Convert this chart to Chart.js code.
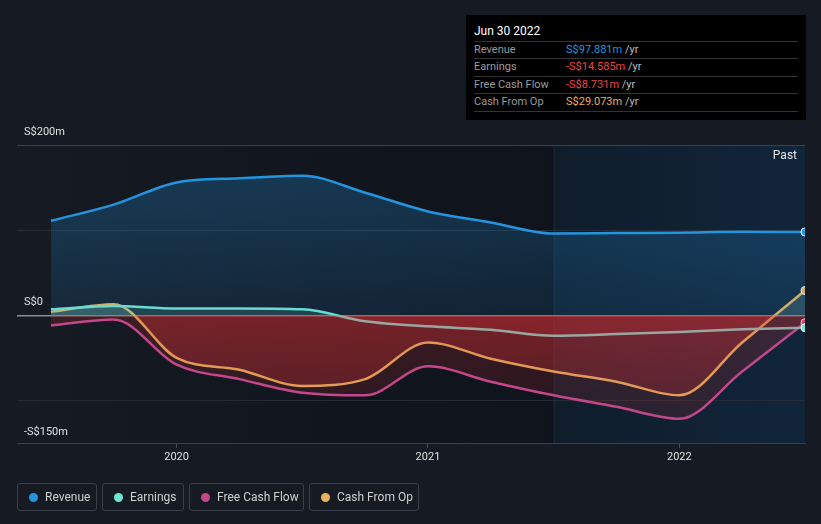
<!DOCTYPE html>
<html>
<head>
<meta charset="utf-8">
<script src="https://cdn.jsdelivr.net/npm/chart.js@4/dist/chart.umd.min.js"></script>
<style>
  html, body { margin:0; padding:0; background:#151a23; width:821px; height:524px; overflow:hidden; font-family: Roboto, "Noto Sans", sans-serif; }
  #wrap { position:relative; width:821px; height:524px; }
  canvas { position:absolute; left:0; top:0; }
  #tip { position:absolute; left:466px; top:15px; width:340px; height:105px; background:#000; color:#fff; box-sizing:border-box; }
  #tip .hd { position:absolute; left:8px; top:8px; font-size:12px; color:#fff; line-height:16px; }
  #tip .row { position:absolute; left:8px; width:324px; height:17px; border-top:1px solid #333; font-size:11px; line-height:16px; color:#9a9a9a; }
  #tip .row span.v { position:absolute; left:92px; top:0; }
  #tip .row span.u { color:#bdbdbd; }
  #tip .last { position:absolute; left:8px; width:324px; top:96px; border-top:1px solid #333; }
  #legend { position:absolute; left:17px; top:483px; height:29px; }
  .lg { position:absolute; top:0; border:1px solid #3a3f49; border-radius:3px; box-sizing:border-box; height:28px; color:#cfcfcf; font-size:12px; line-height:26px; }
  .lg i { position:absolute; left:11px; top:9px; width:9px; height:9px; border-radius:50%; }
  .lg b { position:absolute; left:27px; font-weight:normal; white-space:nowrap; }
</style>
</head>
<body>
<div id="wrap">
  <canvas id="c" width="821" height="524"></canvas>
  <div id="tip">
    <div class="hd">Jun 30 2022</div>
    <div class="row" style="top:26px">Revenue<span class="v"><span style="color:#2394df">S$97.881m</span> <span class="u">/yr</span></span></div>
    <div class="row" style="top:43px">Earnings<span class="v"><span style="color:#ef4444">-S$14.585m</span> <span class="u">/yr</span></span></div>
    <div class="row" style="top:61px">Free Cash Flow<span class="v"><span style="color:#ef4444">-S$8.731m</span> <span class="u">/yr</span></span></div>
    <div class="row" style="top:78px">Cash From Op<span class="v"><span style="color:#e8b05c">S$29.073m</span> <span class="u">/yr</span></span></div>
    <div class="last"></div>
  </div>
  <div id="legend"></div>
</div>
<script>
// ---- data ----
const quarters = [2019.5, 2019.75, 2020, 2020.25, 2020.5, 2020.75, 2021, 2021.25, 2021.5, 2021.75, 2022, 2022.25, 2022.5];
const revenue  = [111, 130, 156, 161, 164, 144, 122, 109, 96, 96.5, 97, 98, 97.881];
const earnings = [7, 11, 8, 8, 7, -7, -13, -17, -24, -22, -19.5, -16.5, -14.585];
const fcf      = [-12, -5, -58, -75, -91, -94, -60, -78, -94, -107.5, -121.6, -66, -8.731];
const cfo      = [4, 13, -50, -64, -83, -75, -32, -51, -66, -78, -94, -32, 29.073];
const yearTicks = [2020, 2021, 2022];
const yGrid = [-150, -100, 0, 100, 200];
const yLabels = [{v:200, t:'S$200m'}, {v:0, t:'S$0'}, {v:-150, t:'-S$150m'}];
const pastStart = 2021.5;
const seriesNames = ['Revenue', 'Earnings', 'Free Cash Flow', 'Cash From Op'];
const seriesColors = ['#2394df', '#6fe6d3', '#c4478a', '#e8b05c'];

const pts = arr => arr.map((v, i) => ({x: quarters[i], y: v}));
const lastOnly = (r) => quarters.map((q, i) => i === quarters.length - 1 ? r : 0);

function vGrad(chart, stops) {
  const ca = chart.chartArea;
  const g = chart.ctx.createLinearGradient(0, ca.top, 0, ca.bottom);
  stops.forEach(s => g.addColorStop(s[0], s[1]));
  return g;
}
function zeroFrac(chart) {
  const ca = chart.chartArea;
  return (chart.scales.y.getPixelForValue(0) - ca.top) / (ca.bottom - ca.top);
}

const bgPlugin = {
  id: 'bg',
  beforeDraw(chart) {
    const {ctx, chartArea: ca, scales} = chart;
    ctx.save();
    const g = ctx.createLinearGradient(ca.left, 0, ca.right, 0);
    g.addColorStop(0, '#151a23');
    g.addColorStop(0.68, '#0f131b');
    g.addColorStop(1, '#0f131b');
    ctx.fillStyle = g;
    ctx.fillRect(ca.left, ca.top, ca.right - ca.left, ca.bottom - ca.top);
    const px = scales.x.getPixelForValue(pastStart);
    const g2 = ctx.createLinearGradient(px, 0, ca.right, 0);
    g2.addColorStop(0, '#0f1d2b');
    g2.addColorStop(1, '#11253a');
    ctx.fillStyle = g2;
    ctx.fillRect(px, ca.top, ca.right - px, ca.bottom - ca.top);
    ctx.fillStyle = '#1e2a38';
    ctx.fillRect(px, ca.top, 1, ca.bottom - ca.top);
    ctx.restore();
  },
  afterDatasetsDraw(chart) {
    const {ctx, chartArea: ca, scales} = chart;
    ctx.save();
    ctx.font = '12px Roboto, "Noto Sans", sans-serif';
    ctx.fillStyle = '#e6e6e6';
    ctx.textAlign = 'right';
    ctx.textBaseline = 'middle';
    ctx.fillText('Past', ca.right - 8, ca.top + 11);
    ctx.font = '11px Roboto, "Noto Sans", sans-serif';
    ctx.textAlign = 'left';
    ctx.fillStyle = '#e0e0e0';
    yLabels.forEach(l => {
      const y = scales.y.getPixelForValue(l.v);
      ctx.fillText(l.t, ca.left + 7, y - (l.v === -150 ? 11 : 13));
    });
    ctx.restore();
  }
};

const redBelow = (a0, a1) => (ctx) => {
  const ch = ctx.chart;
  if (!ch.chartArea) return 'rgba(200,40,40,0.3)';
  const f = zeroFrac(ch);
  return vGrad(ch, [[0, `rgba(205,45,50,${a0})`], [f, `rgba(205,45,50,${a0})`], [1, `rgba(205,45,50,${a1})`]]);
};

const datasets = [
  {
    label: 'Revenue', data: pts(revenue), borderColor: seriesColors[0], borderWidth: 2.5,
    fill: {target: 'origin', above: (ctx) => {
      const ch = ctx.chart; if (!ch.chartArea) return 'rgba(35,148,223,0.2)';
      const f = zeroFrac(ch);
      return vGrad(ch, [[0, 'rgba(35,148,223,0.3)'], [f, 'rgba(35,148,223,0.12)'], [1, 'rgba(35,148,223,0.12)']]);
    }, below: 'rgba(0,0,0,0)'},
    pointRadius: lastOnly(4), pointBackgroundColor: seriesColors[0], pointBorderColor: '#ffffff', pointBorderWidth: 1
  },
  {
    label: 'Earnings', data: pts(earnings), borderWidth: 2.5,
    borderColor: (ctx) => {
      const ch = ctx.chart; if (!ch.chartArea) return seriesColors[1];
      const f = zeroFrac(ch);
      return vGrad(ch, [[0, '#6fe6d3'], [f, '#6fe6d3'], [f, '#9aa6a2'], [1, '#9aa6a2']]);
    },
    fill: {target: 'origin', above: 'rgba(111,230,211,0.16)', below: redBelow(0.22, 0.1)},
    pointRadius: lastOnly(4), pointBackgroundColor: seriesColors[1], pointBorderColor: '#ffffff', pointBorderWidth: 1
  },
  {
    label: 'Free Cash Flow', data: pts(fcf), borderColor: seriesColors[2], borderWidth: 2.5,
    fill: {target: 'origin', above: 'rgba(111,230,211,0.12)', below: redBelow(0.22, 0.12)},
    pointRadius: lastOnly(4), pointBackgroundColor: seriesColors[2], pointBorderColor: '#ffffff', pointBorderWidth: 1
  },
  {
    label: 'Cash From Op', data: pts(cfo), borderColor: seriesColors[3], borderWidth: 2.5,
    fill: {target: 'origin', above: 'rgba(140,190,170,0.22)', below: redBelow(0.4, 0.2)},
    pointRadius: lastOnly(4), pointBackgroundColor: seriesColors[3], pointBorderColor: '#ffffff', pointBorderWidth: 1
  }
];

new Chart(document.getElementById('c'), {
  type: 'line',
  data: { datasets },
  plugins: [bgPlugin],
  options: {
    responsive: false, animation: false,
    layout: { padding: { left: 17, right: 16, top: 145, bottom: 54 } },
    elements: { line: { cubicInterpolationMode: 'monotone' }, point: { hoverRadius: 0 } },
    plugins: { legend: { display: false }, tooltip: { enabled: false } },
    events: [],
    scales: {
      x: {
        type: 'linear', min: 2019.365, max: 2022.5,
        afterBuildTicks: (s) => { s.ticks = yearTicks.map(v => ({value: v})); },
        afterFit: (s) => { s.height = 27; },
        grid: { drawOnChartArea: false, drawTicks: true, tickLength: 5, color: '#4a4f58' },
        border: { display: true, color: '#3b4049', width: 1 },
        ticks: { color: '#e0e0e0', font: { size: 11, family: 'Roboto' }, padding: 3, callback: v => String(v), maxRotation: 0 }
      },
      y: {
        min: -150, max: 200,
        afterBuildTicks: (s) => { s.ticks = yGrid.map(v => ({value: v})); },
        afterFit: (s) => { s.width = 0; },
        grid: { drawTicks: false, color: (c) => {
          const v = c.tick.value;
          if (v === 0) return '#8c8c8c';
          if (v === 200 || v === -150) return '#3b4049';
          return '#262c36';
        }, lineWidth: (c) => c.tick.value === 0 ? 1.5 : 1 },
        border: { display: false },
        ticks: { display: false }
      }
    }
  }
});

// legend (HTML)
const lgPos = [[0, 80], [85, 82], [172, 115], [292, 110]];
const lg = document.getElementById('legend');
seriesNames.forEach((n, i) => {
  const d = document.createElement('div');
  d.className = 'lg';
  d.style.left = lgPos[i][0] + 'px';
  d.style.width = lgPos[i][1] + 'px';
  d.innerHTML = `<i style="background:${seriesColors[i]}"></i><b>${n}</b>`;
  lg.appendChild(d);
});
</script>
</body>
</html>
